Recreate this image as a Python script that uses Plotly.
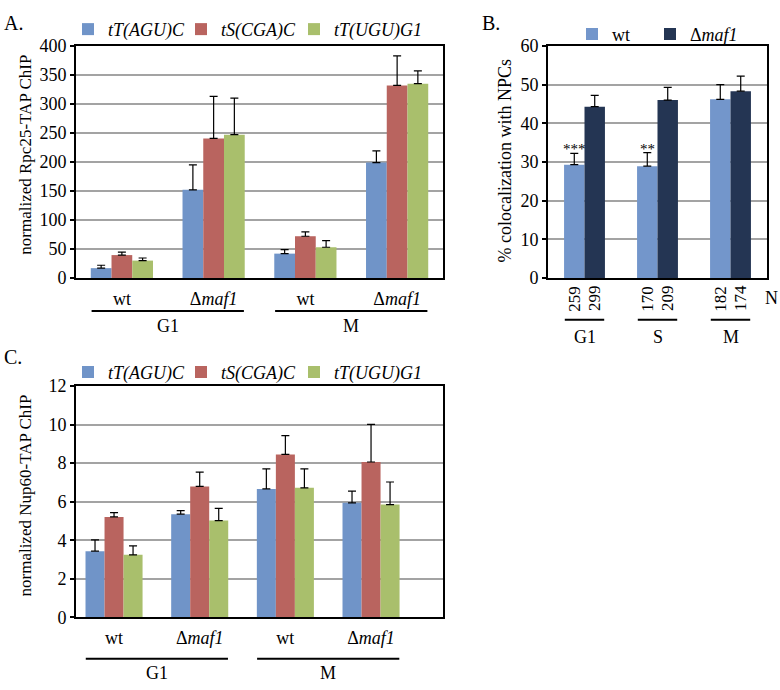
import plotly.graph_objects as go

# panel A / C categories
genotypes = ['wt', 'Δ<i>maf1</i>', 'wt', 'Δ<i>maf1</i>']
phases_ac = ['G1', 'M']
strains = ['tT(AGU)C', 'tS(CGA)C', 'tT(UGU)G1']

# A: normalized Rpc25-TAP ChIP
rpc25_agu = [17, 152, 42, 199]
rpc25_agu_err = [5, 43, 7, 20]
rpc25_cga = [39.5, 240.5, 72, 332]
rpc25_cga_err = [5, 72.5, 7.5, 51]
rpc25_ugu = [30, 247, 53, 335]
rpc25_ugu_err = [4.5, 63, 11.5, 22]

# C: normalized Nup60-TAP ChIP
nup60_agu = [3.43, 5.35, 6.66, 5.94]
nup60_agu_err = [0.59, 0.18, 1.04, 0.61]
nup60_cga = [5.21, 6.79, 8.45, 8.06]
nup60_cga_err = [0.22, 0.74, 0.98, 1.95]
nup60_ugu = [3.24, 5.02, 6.72, 5.85]
nup60_ugu_err = [0.47, 0.63, 0.98, 1.17]

# B: % colocalization with NPCs
coloc_phases = ['G1', 'S', 'M']
coloc_wt = [29.3, 28.9, 46.2]
coloc_wt_err = [2.9, 3.5, 3.8]
coloc_maf1 = [44.3, 46.0, 48.3]
coloc_maf1_err = [2.9, 3.3, 3.9]
n_wt = [259, 170, 182]
n_maf1 = [299, 209, 174]
signif = ['***', '**', '']

W, H = 780, 690
SERIF = 'Liberation Serif, Times New Roman, serif'
strain_colors = ['#7094c8', '#b9645f', '#a9bf6c']
wt_color = '#7396cb'
maf1_color = '#243553'


def px(x):
    return x / W


def py(y):
    return 1 - y / H


fig = go.Figure()

xa = list(range(len(genotypes)))
xb = list(range(len(coloc_phases)))

series_a = [(rpc25_agu, rpc25_agu_err), (rpc25_cga, rpc25_cga_err), (rpc25_ugu, rpc25_ugu_err)]
series_c = [(nup60_agu, nup60_agu_err), (nup60_cga, nup60_cga_err), (nup60_ugu, nup60_ugu_err)]

for i, (vals, err) in enumerate(series_a):
    fig.add_trace(go.Bar(
        x=xa, y=vals, name=strains[i], xaxis='x', yaxis='y',
        width=0.226, offset=-0.339 + 0.226 * i,
        marker=dict(color=strain_colors[i], line=dict(width=0)),
        error_y=dict(type='data', array=err, arrayminus=[0] * len(err), symmetric=False,
                     color='black', thickness=1.2, width=4),
        legend='legend', legendwidth=68 if i < 2 else 110
    ))

for i, (vals, err) in enumerate(series_c):
    fig.add_trace(go.Bar(
        x=xa, y=vals, name=strains[i], xaxis='x3', yaxis='y3',
        width=0.222, offset=-0.333 + 0.222 * i,
        marker=dict(color=strain_colors[i], line=dict(width=0)),
        error_y=dict(type='data', array=err, arrayminus=[0] * len(err), symmetric=False,
                     color='black', thickness=1.2, width=4),
        legend='legend3', legendwidth=68 if i < 2 else 110
    ))

fig.add_trace(go.Bar(
    x=xb, y=coloc_wt, name='wt', xaxis='x2', yaxis='y2',
    width=0.28, offset=-0.28,
    marker=dict(color=wt_color, line=dict(width=0)),
    error_y=dict(type='data', array=coloc_wt_err, arrayminus=[0] * 3, symmetric=False,
                 color='black', thickness=1.2, width=4),
    legend='legend2', legendwidth=33
))
fig.add_trace(go.Bar(
    x=xb, y=coloc_maf1, name='Δ<i>maf1</i>', xaxis='x2', yaxis='y2',
    width=0.28, offset=0,
    marker=dict(color=maf1_color, line=dict(width=0)),
    error_y=dict(type='data', array=coloc_maf1_err, arrayminus=[0] * 3, symmetric=False,
                 color='black', thickness=1.2, width=4),
    legend='legend2', legendwidth=70
))

yax = dict(showline=True, linecolor='black', linewidth=2, mirror=True,
           showgrid=True, gridcolor='#a3a3a3', gridwidth=2, zeroline=False,
           ticks='outside', ticklen=4, tickcolor='black', tickwidth=1.5,
           tickfont=dict(family=SERIF, size=18, color='black'))
xax = dict(showline=True, linecolor='black', linewidth=2, mirror=True,
           showgrid=False, zeroline=False, ticks='',
           tickfont=dict(family=SERIF, size=18, color='black'))

fig.update_layout(
    width=W, height=H,
    margin=dict(l=0, r=0, t=0, b=0),
    plot_bgcolor='white', paper_bgcolor='white',
    xaxis=dict(xax, domain=[px(76), px(443)], anchor='y', range=[-0.5, 3.5],
               tickvals=xa, ticktext=genotypes, ticklabelstandoff=3),
    yaxis=dict(yax, domain=[py(276), py(37)], anchor='x', range=[0, 400], dtick=50),
    xaxis2=dict(xax, domain=[px(548), px(767)], anchor='y2', range=[-0.5, 2.5],
                showticklabels=False),
    yaxis2=dict(yax, domain=[py(276), py(37)], anchor='x2', range=[0, 60], dtick=10),
    xaxis3=dict(xax, domain=[px(76), px(443)], anchor='y3', range=[-0.444, 3.84],
                tickvals=xa, ticktext=genotypes, ticklabelstandoff=3),
    yaxis3=dict(yax, domain=[py(625.4), py(387.3)], anchor='x3', range=[0, 12], dtick=2),
    legend=dict(orientation='h', x=px(68), y=py(20), xanchor='left', yanchor='middle',
                entrywidthmode='pixels', bgcolor='rgba(0,0,0,0)',
                font=dict(family=SERIF, size=18, style='italic', color='black')),
    legend2=dict(orientation='h', x=px(572), y=py(25), xanchor='left', yanchor='middle',
                 entrywidthmode='pixels', bgcolor='rgba(0,0,0,0)',
                 font=dict(family=SERIF, size=18, color='black')),
    legend3=dict(orientation='h', x=px(68), y=py(373), xanchor='left', yanchor='middle',
                 entrywidthmode='pixels', bgcolor='rgba(0,0,0,0)',
                 font=dict(family=SERIF, size=18, style='italic', color='black')),
    showlegend=True,
)

ann = []
shapes = []


def label(text, x, y, size=18, **kw):
    ann.append(dict(text=text, x=x, y=y, xref=kw.pop('xref', 'paper'), yref='paper',
                    showarrow=False, xanchor=kw.pop('xanchor', 'center'),
                    yanchor=kw.pop('yanchor', 'middle'),
                    font=dict(family=SERIF, size=size, color='black'), **kw))


# panel letters
label('A.', px(13), py(13), size=20)
label('B.', px(491), py(13), size=20)
label('C.', px(13), py(357), size=20)

# axis titles
label('normalized Rpc25-TAP ChIP', px(26), py(149), size=17, textangle=-90)
label('% colocalization with NPCs', px(505), py(156), size=18, textangle=-90)
label('normalized Nup60-TAP ChIP', px(26), py(500), size=17, textangle=-90)

# phase brackets under A and C
for axis, line_y, text_y in [('x', 310, 325), ('x3', 668, 683)]:
    for k, ph in enumerate(phases_ac):
        shapes.append(dict(type='line', xref=axis, yref='paper',
                           x0=2 * k - 0.33, x1=2 * k + 1.33, y0=py(line_y), y1=py(line_y),
                           line=dict(color='black', width=2)))
        label(ph, 2 * k + 0.5, py(text_y), xref=axis)

# B: cell counts, brackets, significance
for k, ph in enumerate(coloc_phases):
    label(str(n_wt[k]), k - 0.14, py(297), size=17, xref='x2', textangle=-90)
    label(str(n_maf1[k]), k + 0.14, py(297), size=17, xref='x2', textangle=-90)
    shapes.append(dict(type='line', xref='x2', yref='paper',
                       x0=k - 0.27, x1=k + 0.27, y0=py(319), y1=py(319),
                       line=dict(color='black', width=2)))
    label(ph, k, py(337), xref='x2')
    if signif[k]:
        ann.append(dict(text=signif[k], x=k - 0.14, y=coloc_wt[k] + coloc_wt_err[k],
                        xref='x2', yref='y2', showarrow=False, yanchor='bottom', yshift=-6,
                        font=dict(family=SERIF, size=15, color='black')))
label('N', px(771), py(297))

fig.update_layout(annotations=ann, shapes=shapes)

# the page body has a default 8px margin; drop it so the figure sits at the corner
fig.write_html("out.html", config={'displayModeBar': False},
               post_script="document.body.style.margin='0';")
